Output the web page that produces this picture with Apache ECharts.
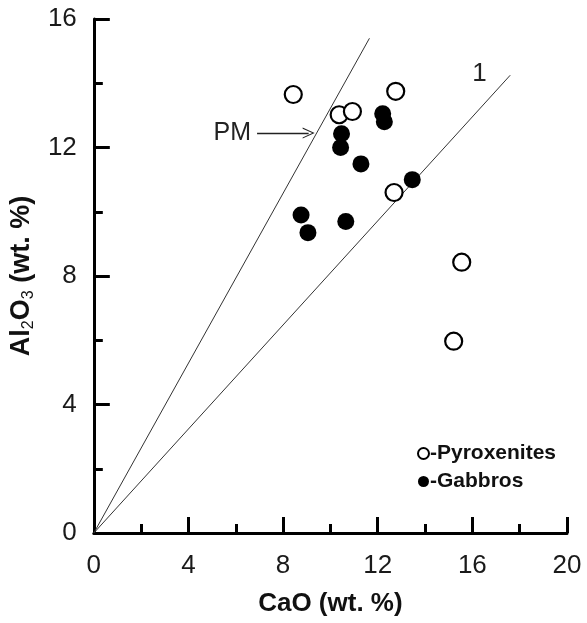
<!DOCTYPE html>
<html>
<head>
<meta charset="utf-8">
<script src="https://cdn.jsdelivr.net/npm/echarts@6/dist/echarts.min.js"></script>
<style>html,body{margin:0;padding:0;background:#fff}#c{width:587px;height:623px}</style>
</head>
<body>
<div id="c"></div>
<script>
// Data (CaO, Al2O3 wt.%)
const pyroxenites = [[8.43,13.65],[10.37,13.02],[10.93,13.12],[12.76,13.75],[12.69,10.6],[15.55,8.43],[15.21,5.97]];
const gabbros = [[12.21,13.05],[12.28,12.8],[10.47,12.43],[10.43,12.0],[11.29,11.49],[13.46,11.0],[8.76,9.9],[9.05,9.35],[10.65,9.7]];
const linePM = [[0,0],[11.65,15.4]];
const line1 = [[0,0],[17.6,14.25]];
const pmArrow = [[6.9,12.45],[9.08,12.45]];
const label1Pos = [16.3,14.3];
const xTicks = {min:0, max:20, interval:4};
const yTicks = {min:0, max:16, interval:4};

const FONT = '"Liberation Sans", Arial, sans-serif';
const chart = echarts.init(document.getElementById('c'));
const axisCommon = {
  axisLine:{show:true, lineStyle:{color:'#000', width:3}},
  axisTick:{show:true, inside:true, length:16, lineStyle:{color:'#000', width:3}},
  minorTick:{show:true, splitNumber:2, length:9, lineStyle:{color:'#000', width:3}},
  splitLine:{show:false},
  axisLabel:{color:'#1a1a1a', fontSize:26, fontFamily:FONT},
};
chart.setOption({
  animation:false,
  backgroundColor:'#fff',
  grid:{left:87, right:20, top:19, bottom:90, containLabel:false},
  xAxis:Object.assign({type:'value', min:xTicks.min, max:xTicks.max, interval:xTicks.interval,
    name:'CaO (wt. %)', nameLocation:'middle', nameGap:58,
    nameTextStyle:{fontSize:26, fontWeight:'bold', color:'#111', fontFamily:FONT}}, axisCommon,
    {axisLabel:Object.assign({}, axisCommon.axisLabel, {margin:20})}),
  yAxis:Object.assign({type:'value', min:yTicks.min, max:yTicks.max, interval:yTicks.interval,
    name:'Al{s|2}O{s|3} (wt. %)', nameLocation:'middle', nameGap:52, nameRotate:90,
    nameTextStyle:{fontSize:27, fontWeight:'bold', color:'#111', fontFamily:FONT,
      rich:{s:{fontSize:16, fontWeight:'normal', fontFamily:FONT, color:'#111', verticalAlign:'bottom', padding:[15,0,0,0]}}}}, axisCommon,
    {axisLabel:Object.assign({}, axisCommon.axisLabel, {margin:17})}),
  legend:{
    orient:'vertical', left:412, top:438, itemWidth:11, itemHeight:11, itemGap:7,
    textStyle:{fontSize:21, fontWeight:'bold', color:'#111', fontFamily:FONT, padding:[0,0,0,-4]},
    formatter: n => '-' + n,
    data:[{name:'Pyroxenites', icon:'circle'},{name:'Gabbros', icon:'circle'}]
  },
  series:[
    {type:'line', name:'PM line', data:linePM, showSymbol:false, symbol:'none', silent:true,
      lineStyle:{color:'#333', width:1}, z:1,
      markLine:{silent:true, symbol:['none','path://M0,10 L5,0 L10,10 L9,10 L5,2 L1,10 Z'], symbolSize:[11,12],
        lineStyle:{color:'#222', width:1.3, type:'solid'},
        label:{show:true, position:'start', formatter:'PM', fontSize:25, color:'#222', fontFamily:FONT, distance:6},
        data:[[{coord:pmArrow[0]},{coord:pmArrow[1]}]]}},
    {type:'line', name:'Line 1', data:line1, showSymbol:false, symbol:'none', silent:true,
      lineStyle:{color:'#333', width:1}, z:1,
      markPoint:{symbol:'circle', symbolSize:0, silent:true,
        label:{show:true, formatter:'1', fontSize:26, color:'#222', fontFamily:FONT, position:'inside'},
        data:[{coord:label1Pos}]}},
    {type:'scatter', name:'Pyroxenites', data:pyroxenites, symbol:'circle', symbolSize:17, z:3,
      itemStyle:{color:'#fff', borderColor:'#000', borderWidth:2.2, opacity:1}},
    {type:'scatter', name:'Gabbros', data:gabbros, symbol:'circle', symbolSize:17, z:4,
      itemStyle:{color:'#000', borderColor:'#000', borderWidth:0, opacity:1}}
  ]
});
</script>
</body>
</html>
